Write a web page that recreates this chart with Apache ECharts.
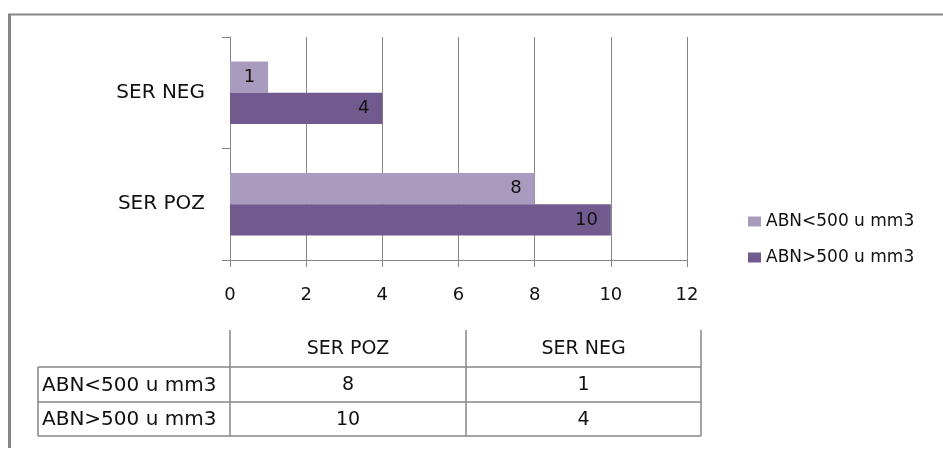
<!DOCTYPE html>
<html>
<head>
<meta charset="utf-8">
<script src="https://cdn.jsdelivr.net/npm/echarts@6/dist/echarts.min.js"></script>
<style>
  html, body { margin: 0; padding: 0; background: #ffffff; }
  #chart { width: 943px; height: 450px; }
</style>
</head>
<body>
<div id="chart"></div>
<script>
// Categories on the vertical axis (bottom to top)
var categories = ['SER POZ', 'SER NEG'];
// Series names
var seriesNames = ['ABN<500 u mm3', 'ABN>500 u mm3'];
// Values per category, in the same order as categories
var lowValues = [8, 1];
var highValues = [10, 4];
// Value axis range
var axisMin = 0, axisMax = 12, axisStep = 2;

var lightColor = '#a99bbd';
var darkColor = '#705a8e';
var lineColor = '#868686';
var font = 'DejaVu Sans, Verdana, sans-serif';

var chart = echarts.init(document.getElementById('chart'), null, { renderer: 'canvas' });

// Data table underneath the chart
var tableCols = ['SER POZ', 'SER NEG'];
var tableRows = [
  { name: seriesNames[0], values: [lowValues[0], lowValues[1]] },
  { name: seriesNames[1], values: [highValues[0], highValues[1]] }
];

function buildTable() {
  var xs = [38, 230, 466, 701];
  var ys = [330, 367, 402, 436];
  var els = [];
  var ls = { stroke: lineColor, lineWidth: 1.5 };
  // vertical column separators from the header down
  for (var i = 1; i < xs.length; i++) {
    els.push({ type: 'line', shape: { x1: xs[i], y1: ys[0], x2: xs[i], y2: ys[3] }, style: ls, silent: true });
  }
  // left edge of the row-label column
  els.push({ type: 'line', shape: { x1: xs[0], y1: ys[1], x2: xs[0], y2: ys[3] }, style: ls, silent: true });
  // horizontal lines
  for (var j = 1; j < ys.length; j++) {
    els.push({ type: 'line', shape: { x1: xs[0], y1: ys[j], x2: xs[3], y2: ys[j] }, style: ls, silent: true });
  }
  // header texts
  tableCols.forEach(function (c, k) {
    els.push({ type: 'text', x: (xs[k + 1] + xs[k + 2]) / 2, y: (ys[0] + ys[1]) / 2 + 1,
      style: { text: c, font: '19px ' + font, fill: '#111', align: 'center', verticalAlign: 'middle' }, silent: true });
  });
  // rows
  tableRows.forEach(function (r, ri) {
    var cy = (ys[ri + 1] + ys[ri + 2]) / 2 + 1;
    els.push({ type: 'text', x: xs[0] + 4, y: cy,
      style: { text: r.name, font: '20px ' + font, fill: '#111', align: 'left', verticalAlign: 'middle' }, silent: true });
    r.values.forEach(function (v, vi) {
      els.push({ type: 'text', x: (xs[vi + 1] + xs[vi + 2]) / 2, y: cy,
        style: { text: String(v), font: '19px ' + font, fill: '#111', align: 'center', verticalAlign: 'middle' }, silent: true });
    });
  });
  // outer frame of the chart area (top and left edges)
  els.push({ type: 'line', shape: { x1: 8, y1: 14.5, x2: 943, y2: 14.5 }, style: { stroke: lineColor, lineWidth: 2 }, silent: true });
  els.push({ type: 'line', shape: { x1: 9.5, y1: 14, x2: 9.5, y2: 448 }, style: { stroke: lineColor, lineWidth: 3 }, silent: true });
  return els;
}

var labelStyle = {
  show: true,
  position: 'insideRight',
  distance: 13,
  color: '#111',
  fontFamily: font,
  fontSize: 18
};

var option = {
  backgroundColor: '#ffffff',
  animation: false,
  grid: { left: 230, right: 256, top: 37, bottom: 190, containLabel: false },
  legend: {
    orient: 'vertical',
    left: 743,
    top: 208,
    itemWidth: 13,
    itemHeight: 10,
    itemGap: 19,
    itemStyle: { borderWidth: 0 },
    icon: 'rect',
    data: seriesNames,
    textStyle: { fontFamily: font, fontSize: 17, color: '#111' }
  },
  xAxis: {
    type: 'value',
    min: axisMin,
    max: axisMax,
    interval: axisStep,
    axisLine: { show: true, lineStyle: { color: lineColor, width: 1 } },
    axisTick: { show: true, length: 7, lineStyle: { color: lineColor } },
    splitLine: { show: true, lineStyle: { color: lineColor, width: 1 } },
    axisLabel: { margin: 26, color: '#111', fontFamily: font, fontSize: 18 }
  },
  yAxis: {
    type: 'category',
    data: categories,
    axisLine: { show: true, lineStyle: { color: lineColor, width: 1 } },
    axisTick: { show: true, length: 8, lineStyle: { color: lineColor } },
    axisLabel: { margin: 25, color: '#111', fontFamily: font, fontSize: 20 }
  },
  series: [
    {
      name: seriesNames[0],
      type: 'bar',
      data: lowValues,
      barGap: '0%',
      barCategoryGap: '44%',
      itemStyle: { color: lightColor },
      label: labelStyle
    },
    {
      name: seriesNames[1],
      type: 'bar',
      data: highValues,
      barGap: '0%',
      barCategoryGap: '44%',
      itemStyle: { color: darkColor },
      label: labelStyle
    }
  ],
  graphic: buildTable()
};

chart.setOption(option);
</script>
</body>
</html>
